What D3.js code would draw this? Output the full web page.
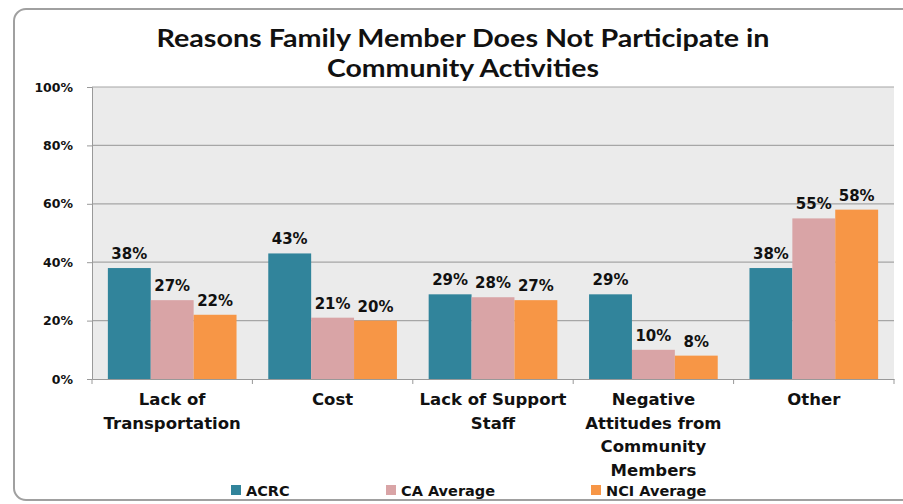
<!DOCTYPE html>
<html lang="en">
<head>
    <meta charset="UTF-8">
    <title>Reasons Family Member Does Not Participate</title>
    <style>
        body { margin: 0; background: white; }
        svg { display: block; }
        .lbl { font-family: "DejaVu Sans", sans-serif; font-weight: bold; fill: #111; }
    </style>
    <script src="https://d3js.org/d3.v7.min.js"></script>
</head>
<body>
<div id="chart"></div>
<script>
    // chart data
    const categories = [
        ["Lack of", "Transportation"],
        ["Cost"],
        ["Lack of Support", "Staff"],
        ["Negative", "Attitudes from", "Community", "Members"],
        ["Other"]
    ];
    const seriesNames = ["ACRC", "CA Average", "NCI Average"];
    const acrc = [38, 43, 29, 29, 38];
    const caAverage = [27, 21, 28, 10, 55];
    const nciAverage = [22, 20, 27, 8, 58];
    const yTicks = [0, 20, 40, 60, 80, 100];
    const colors = ["#31849b", "#d9a4a6", "#f79646"];

    const series = [acrc, caAverage, nciAverage];
    const width = 903, height = 504;

    const svg = d3.select("#chart").append("svg")
        .attr("width", width)
        .attr("height", height);

    // outer frame
    svg.append("rect")
        .attr("x", 14).attr("y", 9)
        .attr("width", 900).attr("height", 491)
        .attr("rx", 12)
        .attr("fill", "white")
        .attr("stroke", "#a0a0a0")
        .attr("stroke-width", 2);

    const plot = { left: 92, right: 894, top: 87, bottom: 379 };

    const x0 = d3.scaleBand()
        .domain(d3.range(categories.length))
        .range([plot.left, plot.right])
        .padding(0);

    const x1 = d3.scaleBand()
        .domain(d3.range(series.length))
        .range([0, x0.bandwidth()])
        .paddingInner(0)
        .paddingOuter(0.37);

    const y = d3.scaleLinear()
        .domain([0, 100])
        .range([plot.bottom, plot.top]);

    // plot background
    svg.append("rect")
        .attr("x", plot.left).attr("y", plot.top)
        .attr("width", plot.right - plot.left)
        .attr("height", plot.bottom - plot.top)
        .attr("fill", "#ebebeb");

    // gridlines
    svg.append("g")
        .selectAll("line")
        .data(yTicks.filter(d => d > 0))
        .enter().append("line")
        .attr("x1", plot.left).attr("x2", plot.right)
        .attr("y1", d => y(d)).attr("y2", d => y(d))
        .attr("stroke", "#a6a6a6")
        .attr("stroke-width", 1.2);

    // y axis
    const yAxis = svg.append("g")
        .attr("transform", `translate(${plot.left},0)`)
        .call(d3.axisLeft(y).tickValues(yTicks).tickFormat(d => d + "%").tickSize(5).tickPadding(14));
    yAxis.select(".domain").attr("stroke", "#999");
    yAxis.selectAll(".tick line").attr("stroke", "#999");
    yAxis.selectAll("text")
        .attr("class", "lbl")
        .style("font-size", "12.5px");

    // x axis line with category ticks
    const xAxis = svg.append("g")
        .attr("transform", `translate(0,${plot.bottom})`)
        .call(d3.axisBottom(x0).tickValues([]).tickSizeOuter(0));
    xAxis.select(".domain").attr("stroke", "#999");
    const bounds = d3.range(categories.length + 1).map(i => plot.left + i * x0.step());
    xAxis.selectAll(".sep")
        .data(bounds)
        .enter().append("line")
        .attr("x1", d => d).attr("x2", d => d)
        .attr("y1", 0).attr("y2", 5)
        .attr("stroke", "#999");

    // bars
    const groups = svg.append("g")
        .selectAll("g")
        .data(categories.map((c, i) => i))
        .enter().append("g")
        .attr("transform", i => `translate(${x0(i)},0)`);

    groups.selectAll("rect")
        .data(i => series.map((s, k) => ({ k: k, v: s[i] })))
        .enter().append("rect")
        .attr("x", d => x1(d.k))
        .attr("y", d => y(d.v))
        .attr("width", x1.bandwidth())
        .attr("height", d => y(0) - y(d.v))
        .attr("fill", d => colors[d.k]);

    groups.selectAll("text")
        .data(i => series.map((s, k) => ({ k: k, v: s[i] })))
        .enter().append("text")
        .attr("class", "lbl")
        .attr("x", d => x1(d.k) + x1.bandwidth() / 2)
        .attr("y", d => y(d.v) - 9)
        .attr("text-anchor", "middle")
        .style("font-size", "15px")
        .text(d => d.v + "%");

    // category labels
    const cat = svg.append("g")
        .selectAll("text")
        .data(categories)
        .enter().append("text")
        .attr("class", "lbl")
        .attr("text-anchor", "middle")
        .attr("x", (d, i) => x0(i) + x0.bandwidth() / 2)
        .attr("y", 405)
        .style("font-size", "16.5px");
    cat.selectAll("tspan")
        .data(d => d)
        .enter().append("tspan")
        .attr("x", function () { return d3.select(this.parentNode).attr("x"); })
        .attr("dy", (d, j) => j === 0 ? 0 : 23.7)
        .text(d => d);

    // legend
    const legendX = [231, 386, 591];
    const legend = svg.append("g")
        .selectAll("g")
        .data(seriesNames)
        .enter().append("g")
        .attr("transform", (d, i) => `translate(${legendX[i]},490)`);
    legend.append("rect")
        .attr("x", 0).attr("y", -5)
        .attr("width", 10).attr("height", 10)
        .attr("fill", (d, i) => colors[i]);
    legend.append("text")
        .attr("class", "lbl")
        .attr("x", 15).attr("y", 6)
        .style("font-size", "14.5px")
        .text(d => d);

    // title
    const titleLines = ["Reasons Family Member Does Not Participate in", "Community Activities"];
    const titleWidths = [613, 272];
    const title = svg.append("text")
        .attr("text-anchor", "middle")
        .attr("x", 463)
        .attr("y", 47)
        .style("font-family", "Lato, sans-serif")
        .style("font-weight", "bold")
        .style("font-size", "24px")
        .attr("fill", "#111");
    title.selectAll("tspan")
        .data(titleLines)
        .enter().append("tspan")
        .attr("x", 463)
        .attr("dy", (d, i) => i === 0 ? 0 : 30)
        .attr("textLength", (d, i) => titleWidths[i])
        .attr("lengthAdjust", "spacingAndGlyphs")
        .text(d => d);
</script>
</body>
</html>
